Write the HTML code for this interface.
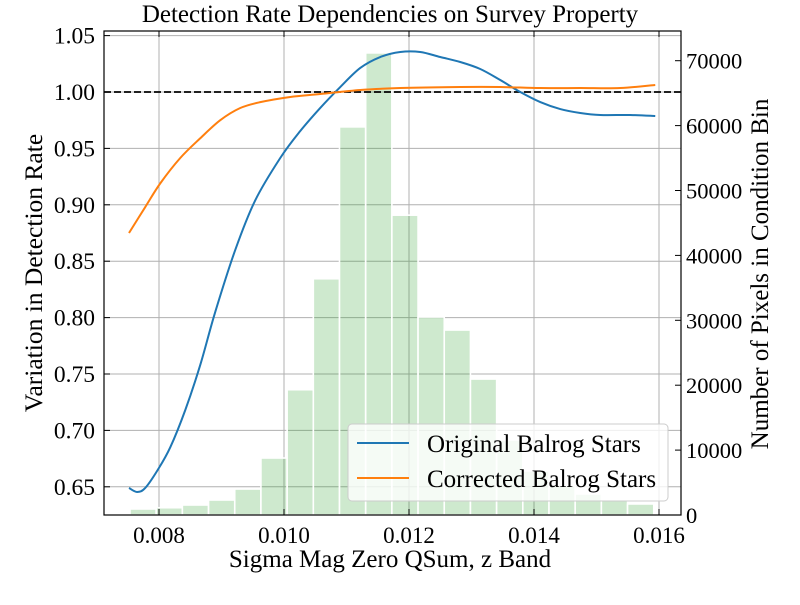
<!DOCTYPE html>
<html><head><meta charset="utf-8"><style>
body{margin:0;background:#fff}
svg text{font-family:"Liberation Serif",serif;fill:#000}
</style></head><body>
<svg id="c" width="800" height="600">
</svg>
<script>
const binEdge0=0.007536, binWidth=0.000419;
const binCounts=[925,1120,1540,2310,4000,8780,19300,36400,59800,71200,46200,30500,28500,20950,11560,6780,4470,3240,2310,1700];
const origX=[0.00752,0.00765,0.00778,0.00798,0.00818,0.00842,0.00866,0.0089,0.00922,0.00954,0.00994,0.01026,0.01058,0.0109,0.01122,0.01154,0.01186,0.01218,0.0125,0.01282,0.01314,0.01346,0.01378,0.0141,0.01442,0.01474,0.01506,0.01554,0.01594];
const origY=[0.649,0.6454,0.649,0.665,0.685,0.718,0.758,0.805,0.860,0.904,0.9415,0.9654,0.9859,1.0044,1.0213,1.031,1.0355,1.0355,1.031,1.0266,1.0204,1.0106,1.0,0.9911,0.9849,0.9814,0.9796,0.9796,0.9787];
const corrX=[0.00752,0.00778,0.00802,0.00834,0.00866,0.00898,0.0093,0.00962,0.0101,0.01058,0.01122,0.01186,0.01282,0.01346,0.0141,0.01474,0.01538,0.01594];
const corrY=[0.875,0.898,0.919,0.9415,0.959,0.975,0.9858,0.991,0.9956,0.9982,1.0018,1.0035,1.0044,1.0044,1.0035,1.0035,1.0035,1.0062];
const xTicks=[0.008,0.010,0.012,0.014,0.016];
const yTicks=[0.65,0.70,0.75,0.80,0.85,0.90,0.95,1.00,1.05];
const y2Ticks=[0,10000,20000,30000,40000,50000,60000,70000];

const L=104,R=681,T=31,B=515;
const sx=v=>159+(v-0.008)*62500;
const sy=v=>92-(v-1.0)*1128;
const sy2=v=>515-v*0.00649;
const svg=document.getElementById('c');
const NS='http://www.w3.org/2000/svg';
function mk(tag,attrs,parent){const e=document.createElementNS(NS,tag);for(const k in attrs)e.setAttribute(k,attrs[k]);(parent||svg).appendChild(e);return e;}

xTicks.forEach(t=>{const g=mk('line',{x1:sx(t),x2:sx(t),y1:T,y2:B,stroke:'#b0b0b0','stroke-width':1});

});
yTicks.forEach(t=>{const g=mk('line',{x1:L,x2:R,y1:sy(t),y2:sy(t),stroke:'#b0b0b0','stroke-width':1});

});

binCounts.forEach((c,i)=>{const x0=sx(binEdge0+i*binWidth),x1=sx(binEdge0+(i+1)*binWidth);
const r=mk('rect',{x:x0,y:sy2(c),width:x1-x0,height:sy2(0)-sy2(c),fill:'rgba(44,160,44,0.23)',stroke:'#fff','stroke-width':1.6});

});

const rl=mk('line',{x1:L,x2:R,y1:sy(1),y2:sy(1),stroke:'#000','stroke-width':1.8,'stroke-dasharray':'7,3'});



function smooth(xs,ys){const p=xs.map((x,i)=>[sx(x),sy(ys[i])]);let d='M'+p[0][0]+','+p[0][1];
for(let i=0;i<p.length-1;i++){const a=p[Math.max(0,i-1)],b=p[i],c=p[i+1],e=p[Math.min(p.length-1,i+2)];
d+=' C'+(b[0]+(c[0]-a[0])/6)+','+(b[1]+(c[1]-a[1])/6)+' '+(c[0]-(e[0]-b[0])/6)+','+(c[1]-(e[1]-b[1])/6)+' '+c[0]+','+c[1];}return d;}
const lo=mk('path',{d:smooth(origX,origY),fill:'none',stroke:'#1f77b4','stroke-width':2});


const lc=mk('path',{d:smooth(corrX,corrY),fill:'none',stroke:'#ff7f0e','stroke-width':2});



const fr=mk('rect',{x:L,y:T,width:R-L,height:B-T,fill:'none',stroke:'#000','stroke-width':1.2});



xTicks.forEach(t=>{mk('line',{x1:sx(t),x2:sx(t),y1:B,y2:B-6,stroke:'#000'});mk('line',{x1:sx(t),x2:sx(t),y1:T,y2:T+6,stroke:'#000'});
const tx=mk('text',{x:sx(t),y:B+28,'text-anchor':'middle','font-size':23});tx.textContent=t.toFixed(3);

});
yTicks.forEach(t=>{mk('line',{x1:L,x2:L+6,y1:sy(t),y2:sy(t),stroke:'#000'});
const tx=mk('text',{x:L-9,y:sy(t)+8,'text-anchor':'end','font-size':23.5});tx.textContent=t.toFixed(2);

});
y2Ticks.forEach(t=>{mk('line',{x1:R,x2:R-6,y1:sy2(t),y2:sy2(t),stroke:'#000'});
const tx=mk('text',{x:R+5,y:sy2(t)+8,'text-anchor':'start','font-size':22.5});tx.textContent=t;

});
</script>
<svg width="800" height="600" style="position:absolute;left:0;top:0">
<text x="390" y="22" text-anchor="middle" font-size="25">Detection Rate Dependencies on Survey Property</text>
<text x="390" y="567" text-anchor="middle" font-size="25">Sigma Mag Zero QSum, z Band</text>
<text transform="translate(42,273) rotate(-90)" text-anchor="middle" font-size="25.5">Variation in Detection Rate</text>
<text transform="translate(768,274) rotate(-90)" text-anchor="middle" font-size="25">Number of Pixels in Condition Bin</text>
<g>
<rect x="348" y="424" width="320" height="77" rx="4" fill="rgba(255,255,255,0.8)" stroke="#ccc"/>
<line x1="357" x2="409" y1="443" y2="443" stroke="#1f77b4" stroke-width="2"/>
<text x="427" y="452" font-size="25">Original Balrog Stars</text>
<line x1="357" x2="409" y1="478" y2="478" stroke="#ff7f0e" stroke-width="2"/>
<text x="427" y="487" font-size="25">Corrected Balrog Stars</text>
</g>
</svg>
</body></html>
